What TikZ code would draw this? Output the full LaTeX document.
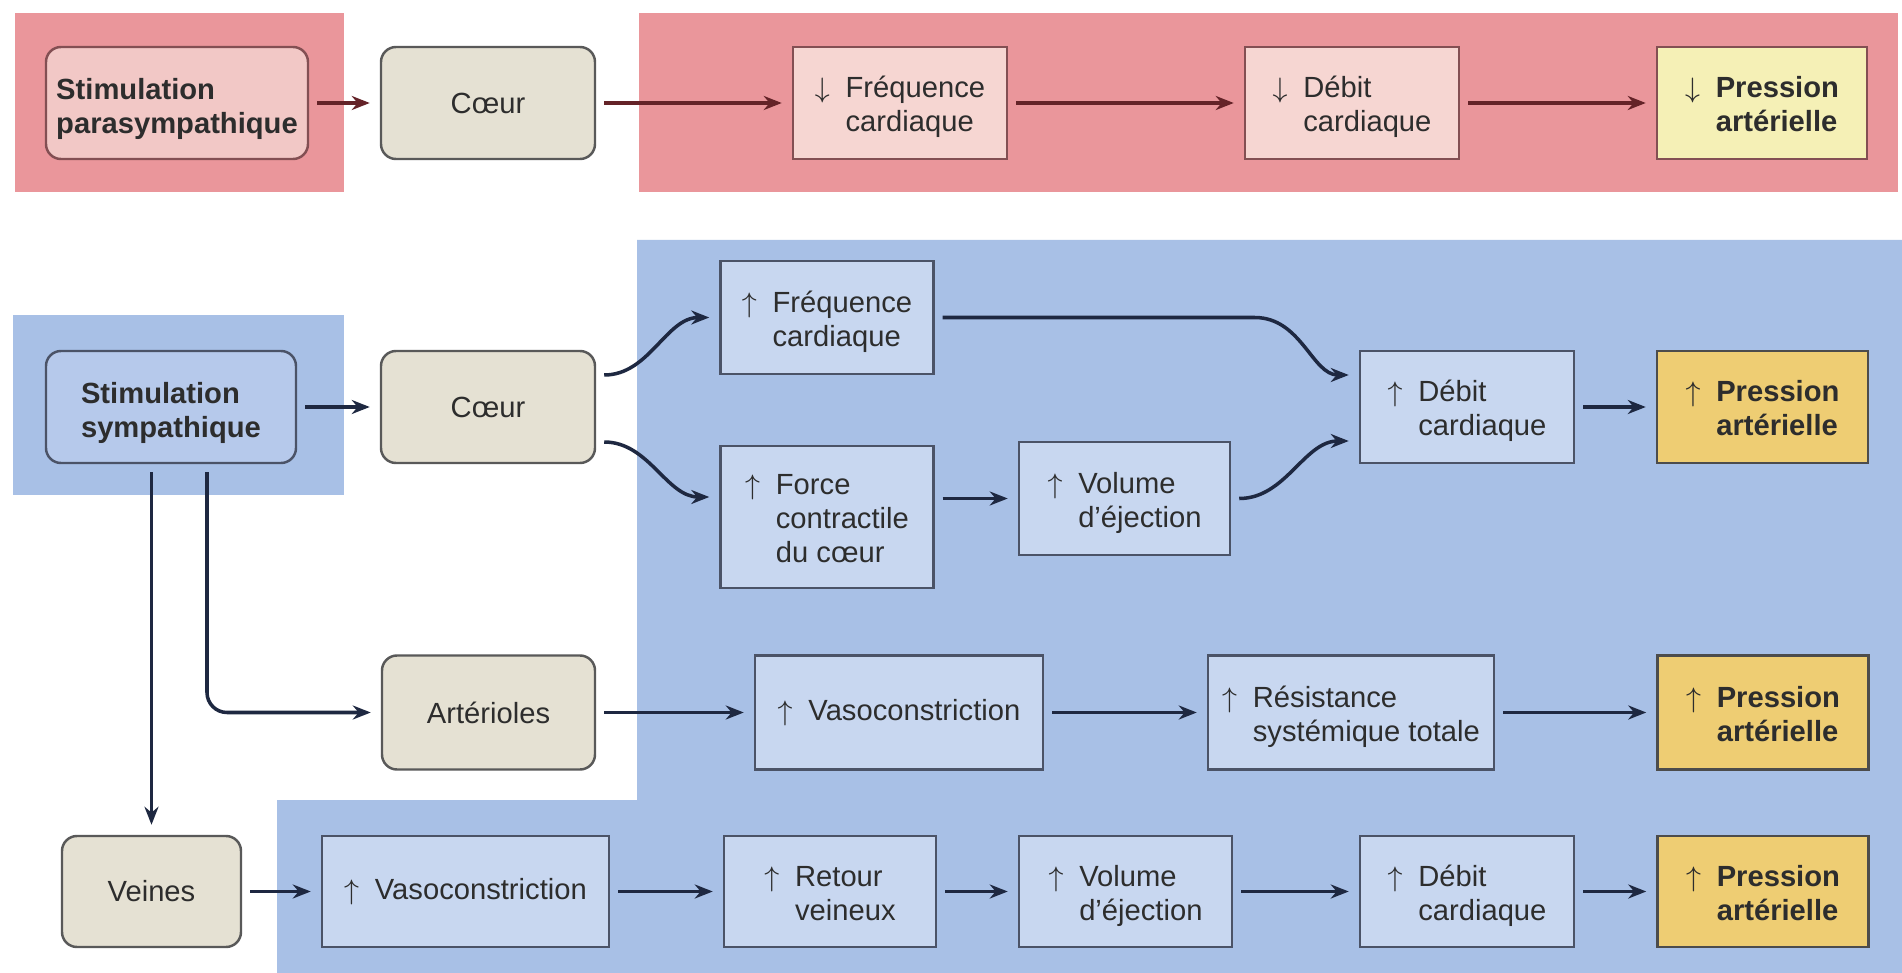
\documentclass[tikz,border=0pt]{standalone}
\usepackage{fontspec}
\setmainfont{Liberation Sans}
\usepackage{tikz}
\usetikzlibrary{arrows.meta, calc}
\definecolor{pinkband}{RGB}{234,150,155}
\definecolor{pinkcell}{RGB}{246,214,210}
\definecolor{pinkstim}{RGB}{242,200,198}
\definecolor{pinkline}{RGB}{100,35,40}
\definecolor{blueband}{RGB}{168,192,230}
\definecolor{bluecell}{RGB}{200,215,240}
\definecolor{bluestim}{RGB}{182,201,235}
\definecolor{blueline}{RGB}{30,40,65}
\definecolor{beige}{RGB}{229,225,211}
\definecolor{paleyellow}{RGB}{245,240,182}
\definecolor{gold}{RGB}{238,205,115}
\definecolor{textgray}{RGB}{45,45,45}
\newcommand{\diagfont}{\fontsize{8.3}{9.6}\selectfont}
\newcommand{\hautstrut}{\rule{0pt}{9.5pt}}
\newcommand{\hausse}[1]{\hautstrut$\uparrow$\hspace{4.5pt}\begin{tabular}[t]{@{}l@{}}#1\end{tabular}}
\newcommand{\baisse}[1]{\hautstrut$\downarrow$\hspace{4.5pt}\begin{tabular}[t]{@{}l@{}}#1\end{tabular}}
\newcommand{\haussemot}[1]{$\uparrow$\hspace{4.5pt}#1}

\begin{document}
\begin{tikzpicture}[font=\diagfont, >={Stealth[length=1.8mm, width=1.4mm]},
    cell/.style={draw=blueline!80, fill=bluecell, line width=0.7pt, text=textgray,
      minimum width=2.14cm, minimum height=1.12cm, inner sep=2pt},
    organ/.style={cell, draw=black!65, fill=beige, rounded corners=0.15cm},
    stim/.style={cell, rounded corners=0.15cm, align=left, font=\diagfont\bfseries},
    bp/.style={cell, fill=gold, draw=black!70, minimum width=2.11cm},
    link/.style={->, line width=1pt, blueline, shorten <=0.08cm, shorten >=0.1cm}]
  \useasboundingbox (0,0) rectangle (19.02,-9.73);
  \fill[white] (0,0) rectangle (19.02,-9.73);
  % bands
  \fill[pinkband] (0.15,-0.13) rectangle (3.44,-1.92);
  \fill[pinkband] (6.39,-0.13) rectangle (18.98,-1.92);
  \fill[blueband] (0.13,-3.15) rectangle (3.44,-4.95);
  \fill[blueband] (6.37,-2.40) -- (19.02,-2.40) -- (19.02,-9.73) -- (2.77,-9.73)
    -- (2.77,-8.00) -- (6.37,-8.00) -- cycle;

  % parasympathique
  \node[stim, fill=pinkstim, draw=pinkline!80, minimum width=2.62cm] (stimP) at (1.77,-1.03) {\hautstrut Stimulation\\parasympathique};
  \node[organ] (coeurP) at (4.88,-1.03) {Cœur};
  \node[cell, fill=pinkcell, draw=pinkline!80] (freqP) at (9.00,-1.03) {\baisse{Fréquence\\cardiaque}};
  \node[cell, fill=pinkcell, draw=pinkline!80] (debitP) at (13.52,-1.03) {\baisse{Débit\\cardiaque}};
  \node[bp, fill=paleyellow, draw=pinkline!80, minimum width=2.10cm] (presP) at (17.62,-1.03) {\baisse{\textbf{Pression}\\\textbf{artérielle}}};
  \draw[link, pinkline] (stimP) -- (coeurP);
  \draw[link, pinkline] (coeurP) -- (freqP);
  \draw[link, pinkline] (freqP) -- (debitP);
  \draw[link, pinkline] (debitP) -- (presP);

  % sympathique : coeur
  \node[stim, fill=bluestim, minimum width=2.50cm] (stimS) at (1.71,-4.07) {\hautstrut Stimulation\\sympathique};
  \node[organ] (coeurS) at (4.88,-4.07) {Cœur};
  \node[cell, minimum width=2.13cm, minimum height=1.13cm] (freqS) at (8.27,-3.175) {\hausse{Fréquence\\cardiaque}};
  \node[cell, minimum width=2.13cm, minimum height=1.42cm] (force) at (8.27,-5.17) {\hausse{Force\\contractile\\du cœur}};
  \node[cell, minimum width=2.11cm, minimum height=1.13cm] (volS) at (11.245,-4.985) {\hausse{Volume\\d’éjection}};
  \node[cell] (debitS) at (14.67,-4.07) {\hausse{Débit\\cardiaque}};
  \node[bp] (presS) at (17.625,-4.07) {\hausse{\textbf{Pression}\\\textbf{artérielle}}};
  \draw[link] (stimS) -- (coeurS);
  \draw[link] ([yshift=0.32cm]coeurS.east) to[out=0, in=180] (freqS.west);
  \draw[link] ([yshift=-0.35cm]coeurS.east) to[out=0, in=180] ([yshift=0.2cm]force.west);
  \draw[link] (force.east |- volS.west) -- (volS.west);
  \draw[link] (freqS.east) -- ++(3.2,0) to[out=0, in=180] ([yshift=0.32cm]debitS.west);
  \draw[link] (volS.east) to[out=0, in=180] ([yshift=-0.34cm]debitS.west);
  \draw[link] (debitS) -- (presS);

  % sympathique : arterioles
  \node[organ, minimum width=2.13cm, minimum height=1.14cm] (art) at (4.885,-7.125) {Artérioles};
  \node[cell, minimum width=2.88cm, minimum height=1.14cm] (vasoA) at (8.99,-7.125) {\haussemot{Vasoconstriction}};
  \node[cell, minimum width=2.86cm, minimum height=1.14cm] (resis) at (13.51,-7.125) {\hausse{Résistance\\systémique totale}};
  \node[bp, minimum height=1.14cm] (presA) at (17.63,-7.125) {\hausse{\textbf{Pression}\\\textbf{artérielle}}};
  \draw[link, rounded corners=0.2cm] ([xshift=0.36cm]stimS.south) |- (art.west);
  \draw[link] (art) -- (vasoA);
  \draw[link] (vasoA) -- (resis);
  \draw[link] (resis) -- (presA);

  % sympathique : veines
  \node[organ, minimum width=1.79cm, minimum height=1.11cm] (veines) at (1.515,-8.915) {Veines};
  \node[cell, minimum width=2.87cm, minimum height=1.11cm] (vasoV) at (4.655,-8.915) {\haussemot{Vasoconstriction}};
  \node[cell, minimum width=2.12cm, minimum height=1.11cm] (retour) at (8.30,-8.915) {\hausse{Retour\\veineux}};
  \node[cell, minimum width=2.13cm, minimum height=1.11cm] (volV) at (11.255,-8.915) {\hausse{Volume\\d’éjection}};
  \node[cell, minimum height=1.11cm] (debitV) at (14.67,-8.915) {\hausse{Débit\\cardiaque}};
  \node[bp, minimum height=1.11cm] (presV) at (17.63,-8.915) {\hausse{\textbf{Pression}\\\textbf{artérielle}}};
  \draw[link] (stimS.south -| veines.north) -- (veines.north);
  \draw[link] (veines) -- (vasoV);
  \draw[link] (vasoV) -- (retour);
  \draw[link] (retour) -- (volV);
  \draw[link] (volV) -- (debitV);
  \draw[link] (debitV) -- (presV);
\end{tikzpicture}
\end{document}
